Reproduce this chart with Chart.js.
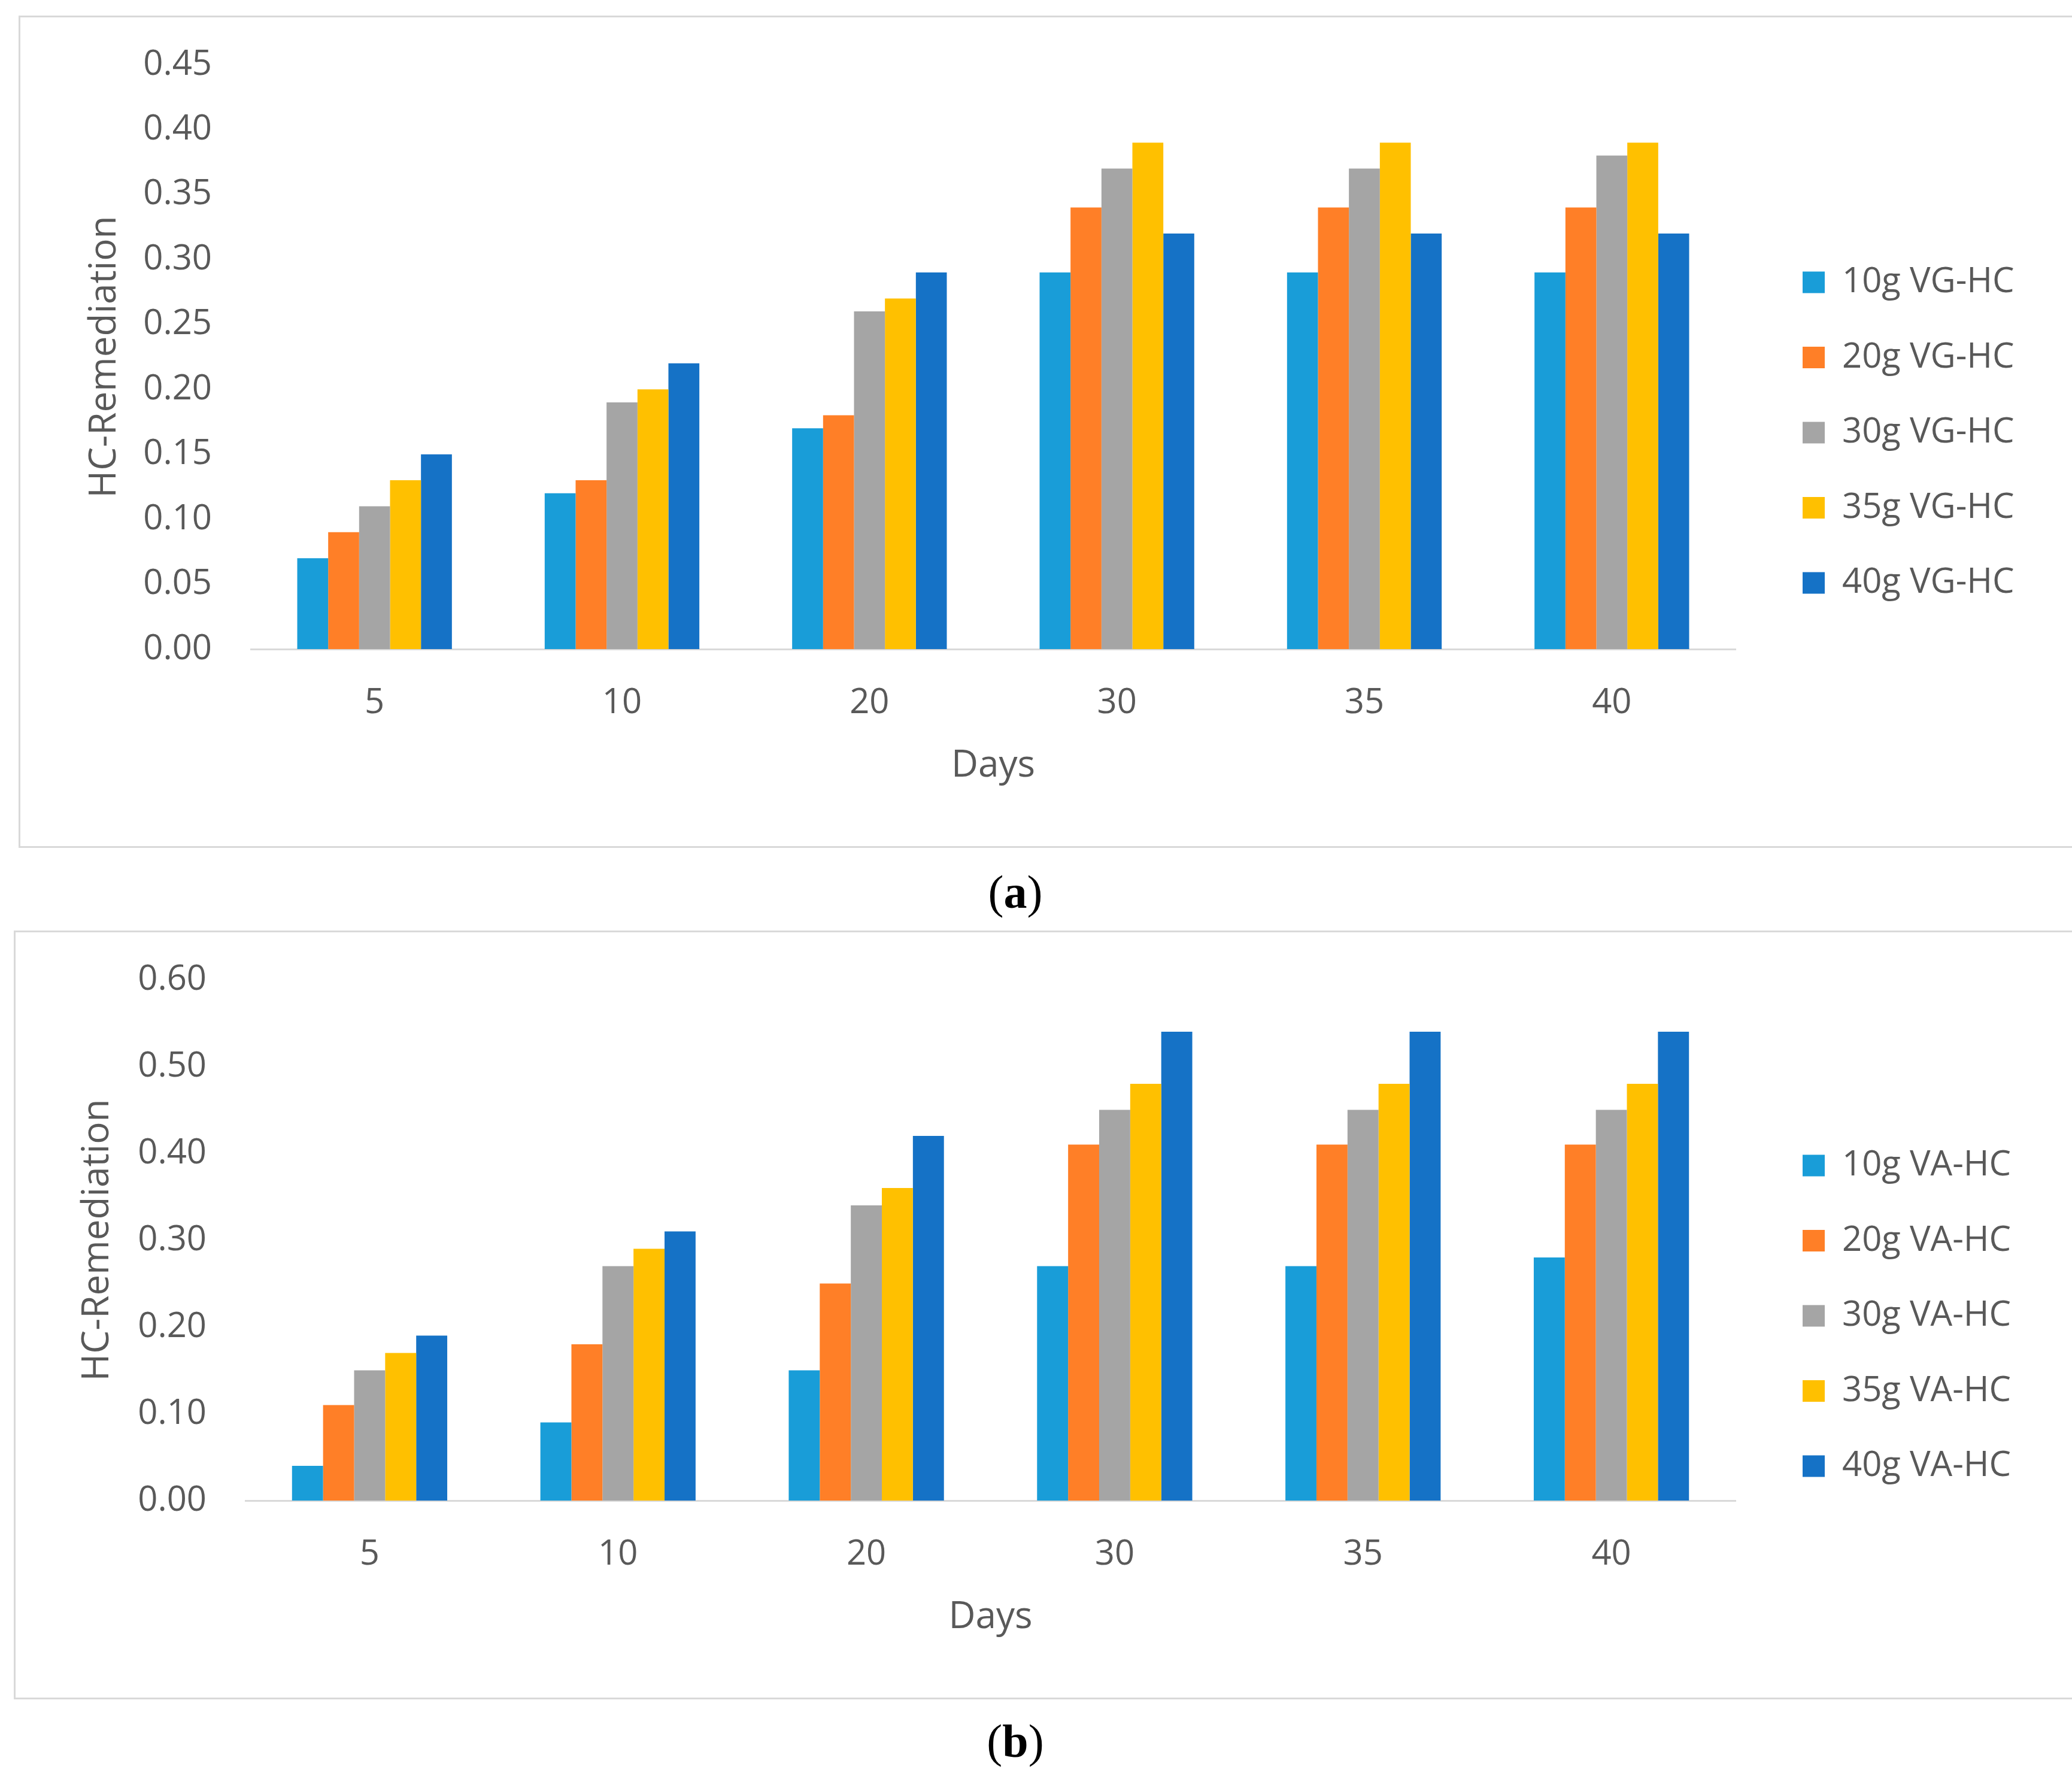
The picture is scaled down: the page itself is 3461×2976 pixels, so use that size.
<!DOCTYPE html>
<html>
<head>
<meta charset="utf-8">
<script src="https://cdn.jsdelivr.net/npm/chart.js@4.4.1/dist/chart.umd.min.js"></script>
<style>
  body { margin: 0; background: #fff; width: 3461px; height: 2976px; position: relative; overflow: hidden; }
  .frame { position: absolute; box-sizing: border-box; border: 3px solid #d9d9d9; border-right: none; }
  canvas { position: absolute; }
  .caption { position: absolute; left: 1496px; width: 400px; text-align: center;
    font-family: 'Liberation Serif', 'Times New Roman', serif; font-size: 78px; line-height: 78px; color: #000; }
</style>
</head>
<body>
<div class="frame" style="left:31px; top:26px; width:3430px; height:1390px;"></div>
<canvas id="chartA" width="3397" height="1387" style="left:32px; top:27px;"></canvas>
<div class="caption" style="top:1451px;">(<b>a</b>)</div>

<div class="frame" style="left:23px; top:1554px; width:3438px; height:1284px;"></div>
<canvas id="chartB" width="3405" height="1281" style="left:24px; top:1555px;"></canvas>
<div class="caption" style="top:2869px;">(<b>b</b>)</div>

<script>
const days = ["5", "10", "20", "30", "35", "40"];
const colors = ["#199DD8", "#FF7F27", "#A5A5A5", "#FFC000", "#1572C6"];

// (a) VG-HC
const namesA = ["10g VG-HC", "20g VG-HC", "30g VG-HC", "35g VG-HC", "40g VG-HC"];
const vg10 = [0.07, 0.12, 0.17, 0.29, 0.29, 0.29];
const vg20 = [0.09, 0.13, 0.18, 0.34, 0.34, 0.34];
const vg30 = [0.11, 0.19, 0.26, 0.37, 0.37, 0.38];
const vg35 = [0.13, 0.20, 0.27, 0.39, 0.39, 0.39];
const vg40 = [0.15, 0.22, 0.29, 0.32, 0.32, 0.32];

// (b) VA-HC
const namesB = ["10g VA-HC", "20g VA-HC", "30g VA-HC", "35g VA-HC", "40g VA-HC"];
const va10 = [0.04, 0.09, 0.15, 0.27, 0.27, 0.28];
const va20 = [0.11, 0.18, 0.25, 0.41, 0.41, 0.41];
const va30 = [0.15, 0.27, 0.34, 0.45, 0.45, 0.45];
const va35 = [0.17, 0.29, 0.36, 0.48, 0.48, 0.48];
const va40 = [0.19, 0.31, 0.42, 0.54, 0.54, 0.54];

Chart.defaults.font.family = "'Open Sans', sans-serif";
Chart.defaults.color = "#595959";

const tickSize = 58, titleSize = 62, legendPad = 67.5, boxW = 37;

// measure legend text so the legend lands where the original one is
const mctx = document.createElement("canvas").getContext("2d");
mctx.font = tickSize + "px 'Open Sans'";

function makeChart(id, names, series, yMax, yStep, area, legendBoxLeft, titleLeft) {
  const canvas = document.getElementById(id);
  const textW = Math.max(...names.map(n => mctx.measureText(n).width));
  const legendLeft = legendBoxLeft - legendPad;
  const legendWidth = legendPad + boxW + tickSize / 2 + textW + 10;
  const padRight = canvas.width - legendLeft - legendWidth;

  return new Chart(canvas, {
    type: "bar",
    data: {
      labels: days,
      datasets: series.map((s, i) => ({
        label: names[i],
        data: s,
        backgroundColor: colors[i],
        borderWidth: 0,
        categoryPercentage: 0.625,
        barPercentage: 1.0
      }))
    },
    options: {
      responsive: false,
      animation: false,
      layout: { padding: { top: 81, bottom: 77, left: 0, right: padRight } },
      plugins: {
        tooltip: { enabled: false },
        legend: {
          position: "right",
          align: "center",
          labels: {
            boxWidth: boxW,
            boxHeight: 36,
            padding: legendPad,
            font: { size: tickSize },
            color: "#595959"
          }
        }
      },
      scales: {
        x: {
          grid: { display: false, drawTicks: false },
          border: { display: true, color: "#D9D9D9", width: 3 },
          ticks: { padding: 56, font: { size: tickSize } },
          title: { display: true, text: "Days", font: { size: titleSize }, padding: { top: -23, bottom: 20 } }
        },
        y: {
          min: 0,
          max: yMax,
          grid: { display: false, drawTicks: false },
          border: { display: false },
          ticks: {
            stepSize: yStep,
            padding: 65,
            font: { size: tickSize },
            callback: v => v.toFixed(2)
          },
          title: { display: true, text: "HC-Remediation", font: { size: titleSize }, padding: { top: titleLeft, bottom: 0 } },
          afterFit: s => {
            s.width = area.left;
            s.paddingTop = 0;
            s.paddingBottom = 0;
          }
        },
        gap: {
          axis: "y",
          type: "linear",
          position: "right",
          grid: { display: false, drawTicks: false },
          border: { display: false },
          ticks: { display: false },
          afterFit: s => { s.width = legendLeft - area.right; }
        }
      }
    }
  });
}

makeChart("chartA", namesA, [vg10, vg20, vg30, vg35, vg40], 0.45, 0.05,
  { left: 387, right: 2867 }, 2979, 106);
makeChart("chartB", namesB, [va10, va20, va30, va35, va40], 0.60, 0.10,
  { left: 386, right: 2875 }, 2987, 102);
</script>
</body>
</html>
